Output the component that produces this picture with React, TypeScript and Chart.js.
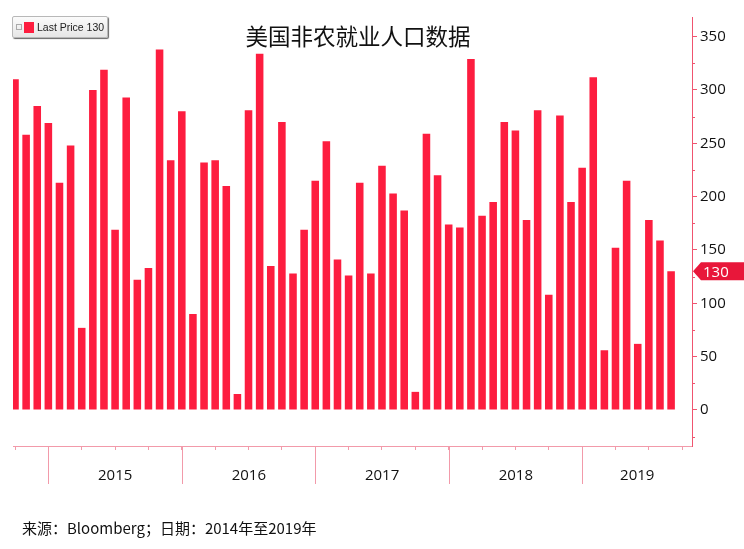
import React, { useEffect, useRef } from "react";
import { Chart, registerables } from "chart.js";

Chart.register(...registerables);

// Monthly US nonfarm payroll changes (thousands), Sep 2014 .. Aug 2019
const payrolls: number[] = [
  310, 258, 285, 269, 213, 248, 77, 300, 319, 169, 293, 122,
  133, 338, 234, 280, 90, 232, 234, 210, 15, 281, 334, 135,
  270, 128, 169, 215, 252, 141, 126, 213, 128, 229, 203, 187,
  17, 259, 220, 174, 171, 329, 182, 195, 270, 262, 178, 281,
  108, 276, 195, 227, 312, 56, 152, 215, 62, 178, 159, 130,
];
const yearLabels: string[] = ["2015", "2016", "2017", "2018", "2019"];
// index of the December bar that closes each preceding year
const yearStartIdx: number[] = [3, 15, 27, 39, 51];
const quarterIdx: number[] = [0, 3, 6, 9, 12, 15, 18, 21, 24, 27, 30, 33, 36, 39, 42, 45, 48, 51, 54, 57, 60];
const lastValue = 130;

const BAR = "#fd1d3f";
const AXIS = "#f0546f";
const XAXIS = "#f29aaa";

const decor = {
  id: "decor",
  afterDraw(chart: any) {
    const { ctx, chartArea } = chart;
    const xs = chart.scales.x;
    const ys = chart.scales.y;
    ctx.save();
    // minor y ticks
    ctx.strokeStyle = AXIS;
    ctx.lineWidth = 1;
    for (let v = -25; v <= 350; v += 25) {
      if (v % 50 === 0) continue;
      const y = Math.round(ys.getPixelForValue(v)) + 0.5;
      ctx.beginPath();
      ctx.moveTo(chartArea.right, y);
      ctx.lineTo(chartArea.right + 3, y);
      ctx.stroke();
    }
    // year boundaries + labels
    ctx.strokeStyle = XAXIS;
    ctx.fillStyle = "#111";
    ctx.font = "15px 'Open Sans', 'DejaVu Sans', sans-serif";
    ctx.textAlign = "center";
    ctx.textBaseline = "middle";
    for (let i = 0; i < yearStartIdx.length; i++) {
      const x = Math.round(xs.getPixelForValue(yearStartIdx[i])) + 0.5;
      ctx.beginPath();
      ctx.moveTo(x, chartArea.bottom);
      ctx.lineTo(x, chartArea.bottom + 38);
      ctx.stroke();
      const next = i + 1 < yearStartIdx.length ? xs.getPixelForValue(yearStartIdx[i + 1]) : chartArea.right;
      ctx.fillText(yearLabels[i], (x + next) / 2, chartArea.bottom + 30);
    }
    // last price tag
    const ty = ys.getPixelForValue(lastValue);
    const x0 = chartArea.right + 1;
    ctx.fillStyle = "#e8173a";
    ctx.beginPath();
    ctx.moveTo(x0, ty);
    ctx.lineTo(x0 + 8, ty - 9);
    ctx.lineTo(744, ty - 9);
    ctx.lineTo(744, ty + 9);
    ctx.lineTo(x0 + 8, ty + 9);
    ctx.closePath();
    ctx.fill();
    ctx.fillStyle = "#ffffff";
    ctx.textAlign = "left";
    ctx.font = "15px 'Open Sans', 'DejaVu Sans', sans-serif";
    ctx.fillText(String(lastValue), x0 + 10, ty + 1);
    ctx.restore();
  },
};

export default function App() {
  const ref = useRef<HTMLCanvasElement>(null);
  useEffect(() => {
    if (!ref.current) return;
    const chart = new Chart(ref.current, {
      type: "bar",
      data: {
        datasets: [
          {
            data: payrolls.map((v, i) => ({ x: i, y: v })),
            backgroundColor: BAR,
            borderWidth: 0,
            barPercentage: 0.68,
            categoryPercentage: 1,
          },
        ],
      },
      options: {
        animation: false,
        responsive: false,
        layout: { padding: { top: 17, left: 13, right: 0, bottom: 0 } },
        plugins: { legend: { display: false }, tooltip: { enabled: false }, title: { display: false } },
        scales: {
          x: {
            type: "linear",
            offset: false,
            min: -0.18,
            max: 60.88,
            afterBuildTicks: (s: any) => {
              s.ticks = quarterIdx.map((v) => ({ value: v }));
            },
            afterFit: (s: any) => {
              s.height = 103;
            },
            ticks: { display: false },
            grid: { offset: false, drawOnChartArea: false, drawTicks: true, tickLength: 4, tickColor: XAXIS },
            border: { display: true, color: XAXIS },
          },
          y: {
            position: "right",
            min: -33.75,
            max: 368.4,
            afterBuildTicks: (s: any) => {
              const t: any[] = [];
              for (let v = 0; v <= 350; v += 50) t.push({ value: v });
              s.ticks = t;
            },
            afterFit: (s: any) => {
              s.width = 52;
            },
            ticks: {
              color: "#111",
              padding: 3,
              font: { family: "'Open Sans', 'DejaVu Sans', sans-serif", size: 15 },
            },
            grid: { drawOnChartArea: false, drawTicks: true, tickLength: 5, tickColor: AXIS },
            border: { display: true, color: AXIS },
          },
        },
      },
      plugins: [decor],
    } as any);
    return () => chart.destroy();
  }, []);

  return (
    <div style={{ position: "absolute", left: 0, top: 0, width: 744, height: 549, background: "#fff", overflow: "hidden" }}>
      <canvas ref={ref} width={744} height={549} style={{ position: "absolute", left: 0, top: 0 }} />
      <div
        style={{
          position: "absolute",
          left: 0,
          width: 716,
          top: 20,
          textAlign: "center",
          fontFamily: "'Noto Sans CJK SC', sans-serif",
          fontSize: 22.5,
          lineHeight: "30px",
          color: "#111",
        }}
      >
        美国非农就业人口数据
      </div>
      <div
        style={{
          position: "absolute",
          left: 12,
          top: 16,
          width: 96,
          height: 22,
          boxSizing: "border-box",
          border: "1px solid #b8b8b8",
          borderRadius: 2,
          background: "linear-gradient(#fbfbfb, #e6e6e6)",
          boxShadow: "1px 1px 1px #666",
          display: "flex",
          alignItems: "center",
          fontFamily: "'Liberation Sans', 'DejaVu Sans', sans-serif",
          fontSize: 10.5,
          color: "#222",
          whiteSpace: "nowrap",
          overflow: "hidden",
        }}
      >
        <span style={{ display: "inline-block", flex: "none", width: 4, height: 4, border: "1px solid #aaa", marginLeft: 3 }} />
        <span style={{ display: "inline-block", flex: "none", width: 10, height: 11, background: BAR, marginLeft: 2, marginRight: 3 }} />
        <span>Last Price 130</span>
      </div>
      <div
        style={{
          position: "absolute",
          left: 22,
          top: 517,
          fontFamily: "'Noto Sans CJK SC', sans-serif",
          fontSize: 15,
          lineHeight: "22px",
          color: "#111",
          whiteSpace: "nowrap",
        }}
      >
        来源：Bloomberg；日期：2014年至2019年
      </div>
    </div>
  );
}
